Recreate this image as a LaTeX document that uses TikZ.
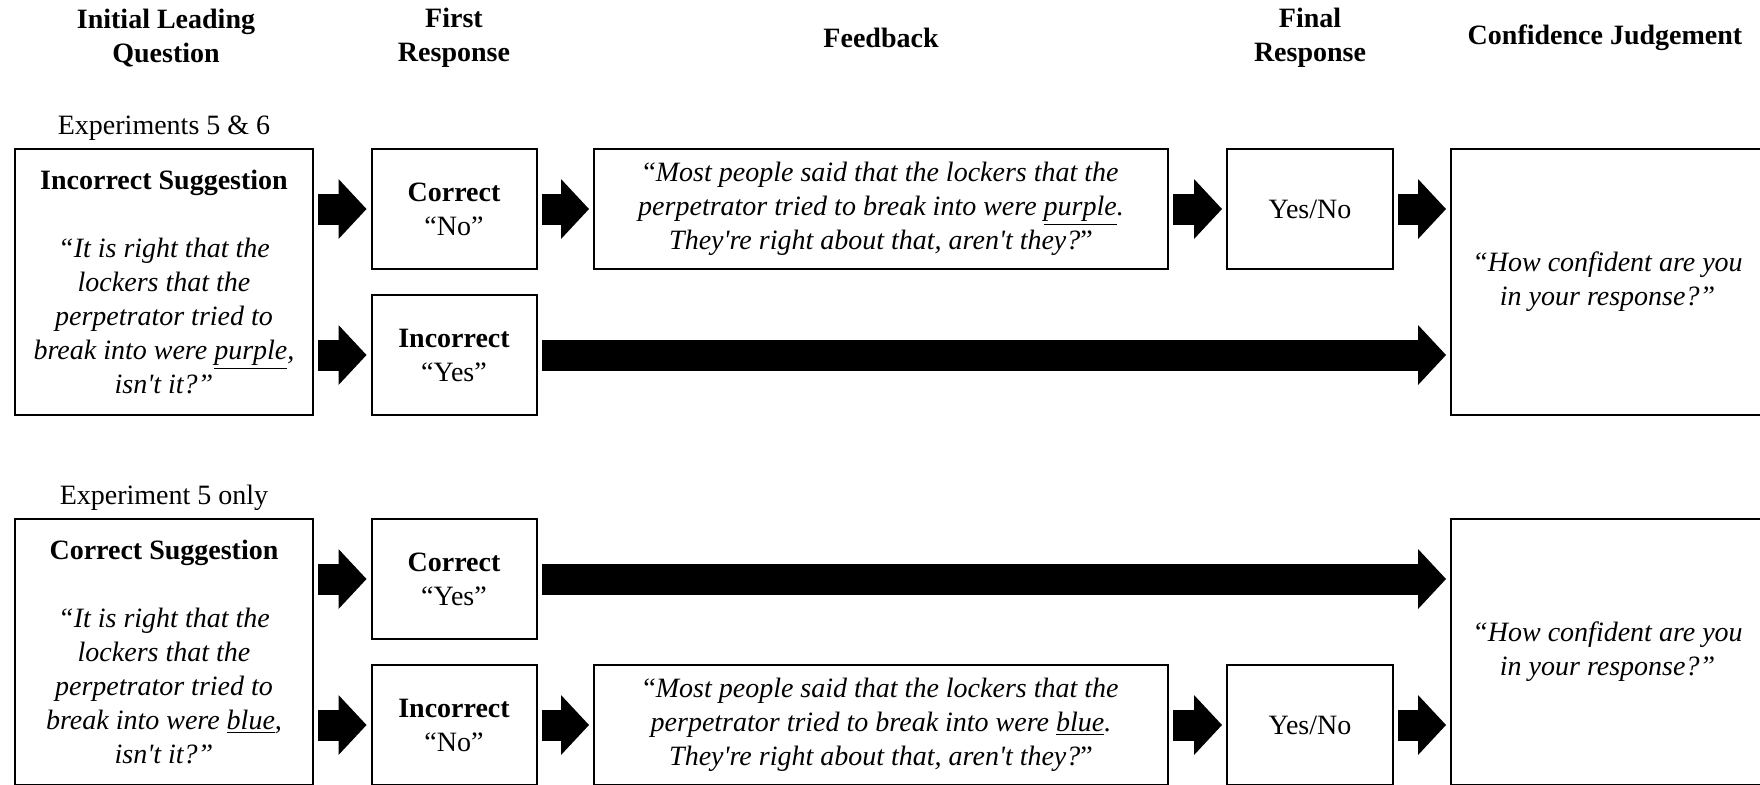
\documentclass[tikz,border=0pt]{standalone}
\usepackage{fontspec}
\setmainfont{Liberation Serif}
\usetikzlibrary{arrows.meta}

\begin{document}
\begin{tikzpicture}[x=0.5pt, y=-0.5pt,
    every node/.style={font=\fontsize{14}{17}\selectfont, align=center},
    hd/.style={font=\fontsize{14}{17}\selectfont\bfseries},
    box/.style={draw, line width=1pt, inner sep=0pt, minimum height=60pt},
    bigarrow/.style={line width=15.5pt, shorten <=2pt, shorten >=2pt,
      -{Triangle[length=14pt, width=30pt, line width=0pt]}}]
  \useasboundingbox (0,0) rectangle (1760,784);
  \clip (0,0) rectangle (1760,784);

  % column heads
  \node[hd] (hdLQ) at (166,38) {Initial Leading\\Question};
  \node[hd] (hdFR) at (454,38) {First\\Response};
  \node[hd] (hdFB) at (881,38) {Feedback};
  \node[hd] (hdFN) at (1310,38) {Final\\Response};
  \node[hd] (hdCJ) at (1605,38) {Confidence Judgement};

  % one panel per experiment set
  \foreach \dy/\p/\expname/\sug/\colr/\ansC/\ansI/\fy/\fr/\dr in
    {0/A/{Experiments 5 \& 6}/Incorrect/purple/No/Yes/209/cr/ic,
     370/B/{Experiment 5 only}/Correct/blue/Yes/No/355/ic/cr}
  {
    \node (ex\p) at (164,128+\dy) {\expname};
    \node[box, minimum width=149pt, minimum height=133pt] (lq\p) at (164,282+\dy)
      {\textbf{\sug{} Suggestion}\\[17pt]\textit{“It is right that the}\\
       \textit{lockers that the}\\\textit{perpetrator tried to}\\
       \textit{break into were \underline{\colr},}\\\textit{isn\textquotesingle t it?”}};
    \node[box, minimum width=82.5pt] (cr\p) at (454,209+\dy) {\textbf{Correct}\\“\ansC”};
    \node[box, minimum width=82.5pt] (ic\p) at (454,355+\dy) {\textbf{Incorrect}\\“\ansI”};
    \node[box, minimum width=287pt] (fb\p) at (881,\fy+\dy)
      {“\textit{Most people said that the lockers that the}\\
       \textit{perpetrator tried to break into were \underline{\colr}.}\\
       \textit{They\textquotesingle re right about that, aren\textquotesingle t they?}”};
    \node[box, minimum width=83pt] (yn\p) at (1310,\fy+\dy) {Yes/No};
    \node[box, minimum width=156.5pt, minimum height=133pt] (cj\p) at (1607.5,282+\dy)
      {\textit{“How confident are you}\\\textit{in your response?”}};

    \draw[bigarrow] (lq\p.east |- cr\p.west) -- (cr\p.west);
    \draw[bigarrow] (lq\p.east |- ic\p.west) -- (ic\p.west);
    \draw[bigarrow] (\fr\p.east) -- (fb\p.west);
    \draw[bigarrow] (fb\p.east) -- (yn\p.west);
    \draw[bigarrow] (yn\p.east) -- (yn\p.east -| cj\p.west);
    \draw[bigarrow] (\dr\p.east) -- (\dr\p.east -| cj\p.west);
  }
\end{tikzpicture}
\end{document}
